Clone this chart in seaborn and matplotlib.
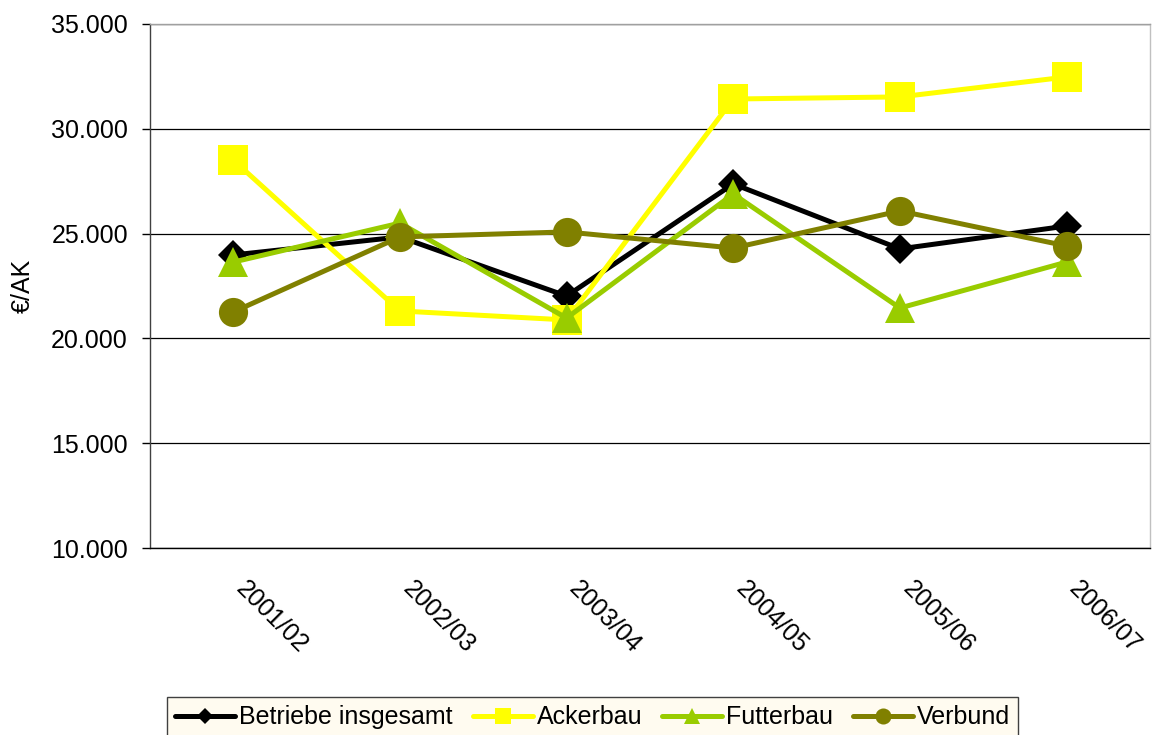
import matplotlib
matplotlib.use("Agg")
import matplotlib.pyplot as plt
import matplotlib.transforms as mtransforms
import seaborn as sns
import pandas as pd

categories = ["2001/02", "2002/03", "2003/04", "2004/05", "2005/06", "2006/07"]
betriebe = [23980, 24840, 22020, 27370, 24270, 25360]
ackerbau = [28510, 21310, 20880, 31420, 31520, 32470]
futterbau = [23640, 25500, 20970, 26890, 21450, 23640]
verbund = [21260, 24840, 25080, 24310, 26080, 24410]
series_names = ["Betriebe insgesamt", "Ackerbau", "Futterbau", "Verbund"]
yticks = [10000, 15000, 20000, 25000, 30000, 35000]
ytick_labels = ["10.000", "15.000", "20.000", "25.000", "30.000", "35.000"]

sns.set_theme(style="white")
plt.rcParams['font.family'] = ['Liberation Sans', 'DejaVu Sans']
plt.rcParams['text.color'] = 'black'
plt.rcParams['xtick.color'] = 'black'
plt.rcParams['ytick.color'] = 'black'
plt.rcParams['axes.labelcolor'] = 'black'

FS = 18

fig = plt.figure(figsize=(11.62, 7.35), dpi=100)
ax = fig.add_axes([0.129, 0.2544, 0.8606, 0.7130])

styles = [
    dict(color="#000000", marker="D", ms=15),
    dict(color="#FFFF00", marker="s", ms=21),
    dict(color="#99CC00", marker="^", ms=21),
    dict(color="#808000", marker="o", ms=21),
]
xs = list(range(len(categories)))
for name, vals, st in zip(series_names, [betriebe, ackerbau, futterbau, verbund], styles):
    df = pd.DataFrame({"x": xs, "y": vals})
    sns.lineplot(data=df, x="x", y="y", ax=ax, color=st["color"], linewidth=3.6,
                 marker=st["marker"], markersize=st["ms"], markeredgewidth=0,
                 markerfacecolor=st["color"], label=name, legend=False)

ax.set_xlim(-0.5, 5.5)
ax.set_ylim(10000, 35000)
ax.set_yticks(yticks)
ax.set_yticklabels(ytick_labels, fontsize=FS)
ax.set_xticks(xs)
ax.set_xticklabels(categories, rotation=-45, ha="left", va="top", fontsize=FS,
                   rotation_mode="anchor")
ax.tick_params(axis="x", pad=0, length=0)
offset = mtransforms.ScaledTranslation(0.15, -0.29, fig.dpi_scale_trans)
for lbl in ax.get_xticklabels():
    lbl.set_transform(lbl.get_transform() + offset)
ax.tick_params(axis="y", length=5.8, width=1, direction="out", left=True, color="black", pad=10)
ax.set_xlabel("")
ax.set_ylabel("€/AK", fontsize=FS, labelpad=12)
ax.grid(axis="y", color="black", linewidth=0.9)
ax.grid(axis="x", visible=False)
ax.set_axisbelow(True)
ax.spines["top"].set_color("#a0a0a0")
ax.spines["left"].set_color("#404040")
ax.spines["right"].set_color("#c0c0c0")
ax.spines["bottom"].set_color("black")
for sp in ax.spines.values():
    sp.set_linewidth(1)

handles, labels = ax.get_legend_handles_labels()
leg = fig.legend(handles, labels, loc="center", bbox_to_anchor=(0.51, 0.024), ncol=4,
                 fontsize=FS, frameon=True, fancybox=False, markerscale=0.55,
                 handlelength=2.4, handletextpad=0.15, columnspacing=0.8,
                 borderpad=0.35, edgecolor="#404040", facecolor="#FFFBF0")
leg.get_frame().set_linewidth(1)
leg.get_frame().set_alpha(1)

fig.savefig("out.png", dpi=100)
